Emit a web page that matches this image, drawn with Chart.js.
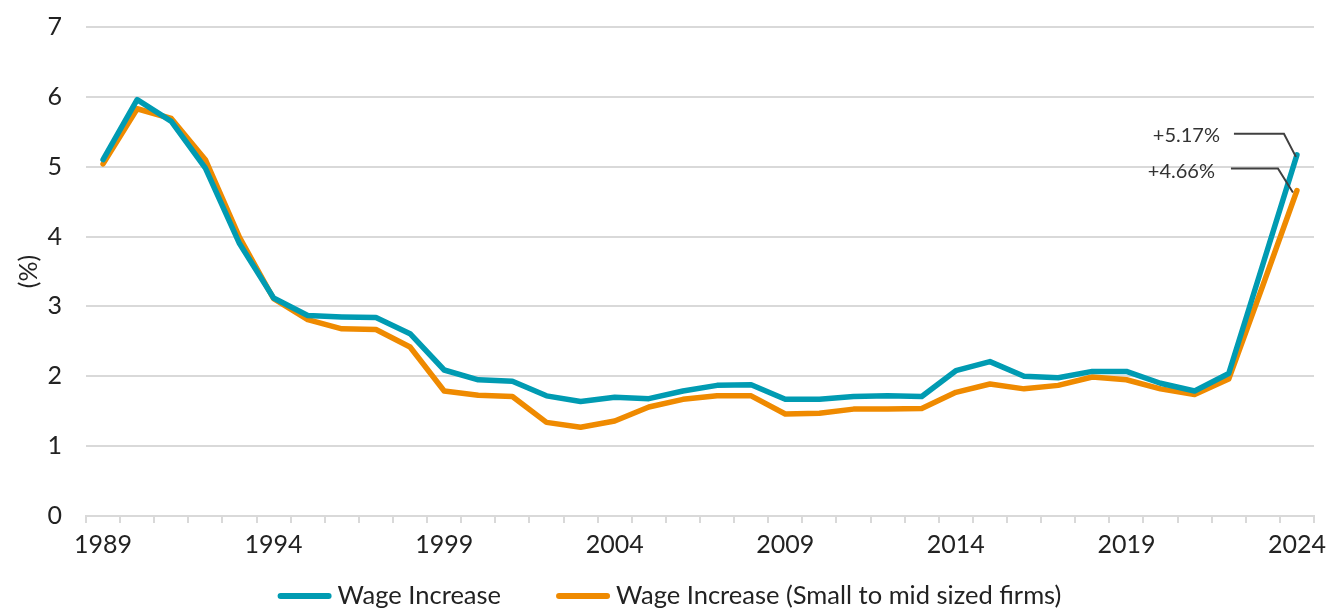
<!DOCTYPE html>
<html>
<head>
<meta charset="utf-8">
<script src="https://cdn.jsdelivr.net/npm/chart.js@4/dist/chart.umd.min.js"></script>
<style>
    html, body { margin: 0; padding: 0; background: #fff; overflow: hidden; }
    #wrap { width: 1327px; height: 610px; position: relative; }
</style>
</head>
<body>
<div id="wrap"><canvas id="wageChart"></canvas></div>
<script>
const years = [];
for (let y = 1989; y <= 2024; y++) years.push(String(y));

const wageIncrease = [5.10, 5.96, 5.65, 4.98, 3.90, 3.12, 2.87, 2.85, 2.84, 2.61,
    2.09, 1.95, 1.93, 1.72, 1.64, 1.70, 1.68, 1.79, 1.87, 1.88,
    1.67, 1.67, 1.71, 1.72, 1.71, 2.08, 2.21, 2.00, 1.98, 2.07,
    2.07, 1.90, 1.79, 2.04, 3.60, 5.17];

const wageIncreaseSmall = [5.04, 5.83, 5.69, 5.10, 3.99, 3.11, 2.81, 2.68, 2.67, 2.42,
    1.79, 1.73, 1.71, 1.34, 1.27, 1.36, 1.56, 1.67, 1.72, 1.72,
    1.46, 1.47, 1.53, 1.53, 1.54, 1.77, 1.89, 1.82, 1.87, 1.99,
    1.95, 1.82, 1.74, 1.96, 3.30, 4.66];

const seriesNames = ['Wage Increase', 'Wage Increase (Small to mid sized firms)'];
const endLabels = ['+5.17%', '+4.66%'];

const yTicks = [0, 1, 2, 3, 4, 5, 6, 7];

const FONT = 'Lato, "Noto Sans", sans-serif';
const TEAL = '#009bb2';
const ORANGE = '#ef8a00';

// leader line layout for the end labels, relative to the last point
const leaderOffsets = [
    { textX: -77, textY: -19, lineY: -21, x1: -63, x2: -13, endX: -1, endY: 2 },
    { textX: -82, textY: -19, lineY: -22, x1: -66, x2: -19, endX: -4, endY: 2 }
];

const endLabelPlugin = {
    id: 'endLabels',
    afterDatasetsDraw(chart) {
        const ctx = chart.ctx;
        ctx.save();
        chart.data.datasets.forEach((ds, i) => {
            const meta = chart.getDatasetMeta(i);
            const pt = meta.data[meta.data.length - 1];
            const o = leaderOffsets[i];
            ctx.strokeStyle = '#404040';
            ctx.lineWidth = 2;
            ctx.beginPath();
            ctx.moveTo(pt.x + o.x1, pt.y + o.lineY);
            ctx.lineTo(pt.x + o.x2, pt.y + o.lineY);
            ctx.lineTo(pt.x + o.endX, pt.y + o.endY);
            ctx.stroke();
            ctx.fillStyle = '#333';
            ctx.font = '20px ' + FONT;
            ctx.textAlign = 'right';
            ctx.textBaseline = 'middle';
            ctx.fillText(endLabels[i], pt.x + o.textX, pt.y + o.textY);
        });
        ctx.restore();
    }
};

// bottom legend: a short thick line then the series name
const lineLegendPlugin = {
    id: 'lineLegend',
    afterDraw(chart) {
        const ctx = chart.ctx;
        const lineLen = 54, gap = 6, itemGap = 55;
        ctx.save();
        ctx.font = '25.5px ' + FONT;
        const widths = chart.data.datasets.map(ds => lineLen + gap + ctx.measureText(ds.label).width);
        const total = widths.reduce((a, b) => a + b, 0) + itemGap * (widths.length - 1);
        let x = chart.width / 2 - total / 2 + 6;
        const y = 596;
        chart.data.datasets.forEach((ds, i) => {
            ctx.strokeStyle = ds.borderColor;
            ctx.lineWidth = 6;
            ctx.lineCap = 'round';
            ctx.beginPath();
            ctx.moveTo(x + 3, y);
            ctx.lineTo(x + lineLen - 3, y);
            ctx.stroke();
            ctx.fillStyle = '#222';
            ctx.textAlign = 'left';
            ctx.textBaseline = 'middle';
            ctx.fillText(ds.label, x + lineLen + gap, y);
            x += widths[i] + itemGap;
        });
        ctx.restore();
    }
};

const ctx = document.getElementById('wageChart');

new Chart(ctx, {
    type: 'line',
    data: {
        labels: years,
        datasets: [{
            label: seriesNames[0],
            data: wageIncrease,
            borderColor: TEAL,
            backgroundColor: TEAL,
            borderWidth: 5.5,
            pointRadius: 0,
            tension: 0,
            borderCapStyle: 'round',
            borderJoinStyle: 'round'
        }, {
            label: seriesNames[1],
            data: wageIncreaseSmall,
            borderColor: ORANGE,
            backgroundColor: ORANGE,
            borderWidth: 5.5,
            pointRadius: 0,
            tension: 0,
            borderCapStyle: 'round',
            borderJoinStyle: 'round'
        }]
    },
    options: {
        responsive: true,
        maintainAspectRatio: false,
        animation: false,
        layout: {
            padding: { top: 27, right: 13, left: 0, bottom: 43 }
        },
        plugins: {
            tooltip: { enabled: false },
            legend: { display: false }
        },
        scales: {
            x: {
                offset: true,
                afterFit: scale => {
                    scale.paddingLeft = 0;
                    scale.paddingRight = 0;
                },
                grid: {
                    offset: true,
                    drawOnChartArea: false,
                    drawTicks: true,
                    tickLength: 7,
                    color: '#d9d9d9',
                    lineWidth: 2
                },
                border: { color: '#d9d9d9', width: 2 },
                ticks: {
                    autoSkip: false,
                    maxRotation: 0,
                    color: '#222',
                    padding: 7,
                    font: { family: FONT, size: 25 },
                    callback: function (value, index) {
                        return index % 5 === 0 ? this.getLabelForValue(value) : '';
                    }
                }
            },
            y: {
                min: yTicks[0],
                max: yTicks[yTicks.length - 1],
                afterBuildTicks: scale => {
                    scale.ticks = yTicks.map(v => ({ value: v }));
                },
                afterFit: scale => {
                    scale.width = 86;
                    scale.paddingTop = 0;
                    scale.paddingBottom = 0;
                },
                border: { display: false },
                grid: {
                    color: '#d9d9d9',
                    lineWidth: 2,
                    drawTicks: false
                },
                ticks: {
                    color: '#222',
                    padding: 24,
                    font: { family: FONT, size: 25 }
                },
                title: {
                    display: true,
                    text: '(%)',
                    color: '#222',
                    padding: { top: 14, bottom: 0 },
                    font: { family: FONT, size: 25 }
                }
            }
        }
    },
    plugins: [endLabelPlugin, lineLegendPlugin]
});
</script>
</body>
</html>
